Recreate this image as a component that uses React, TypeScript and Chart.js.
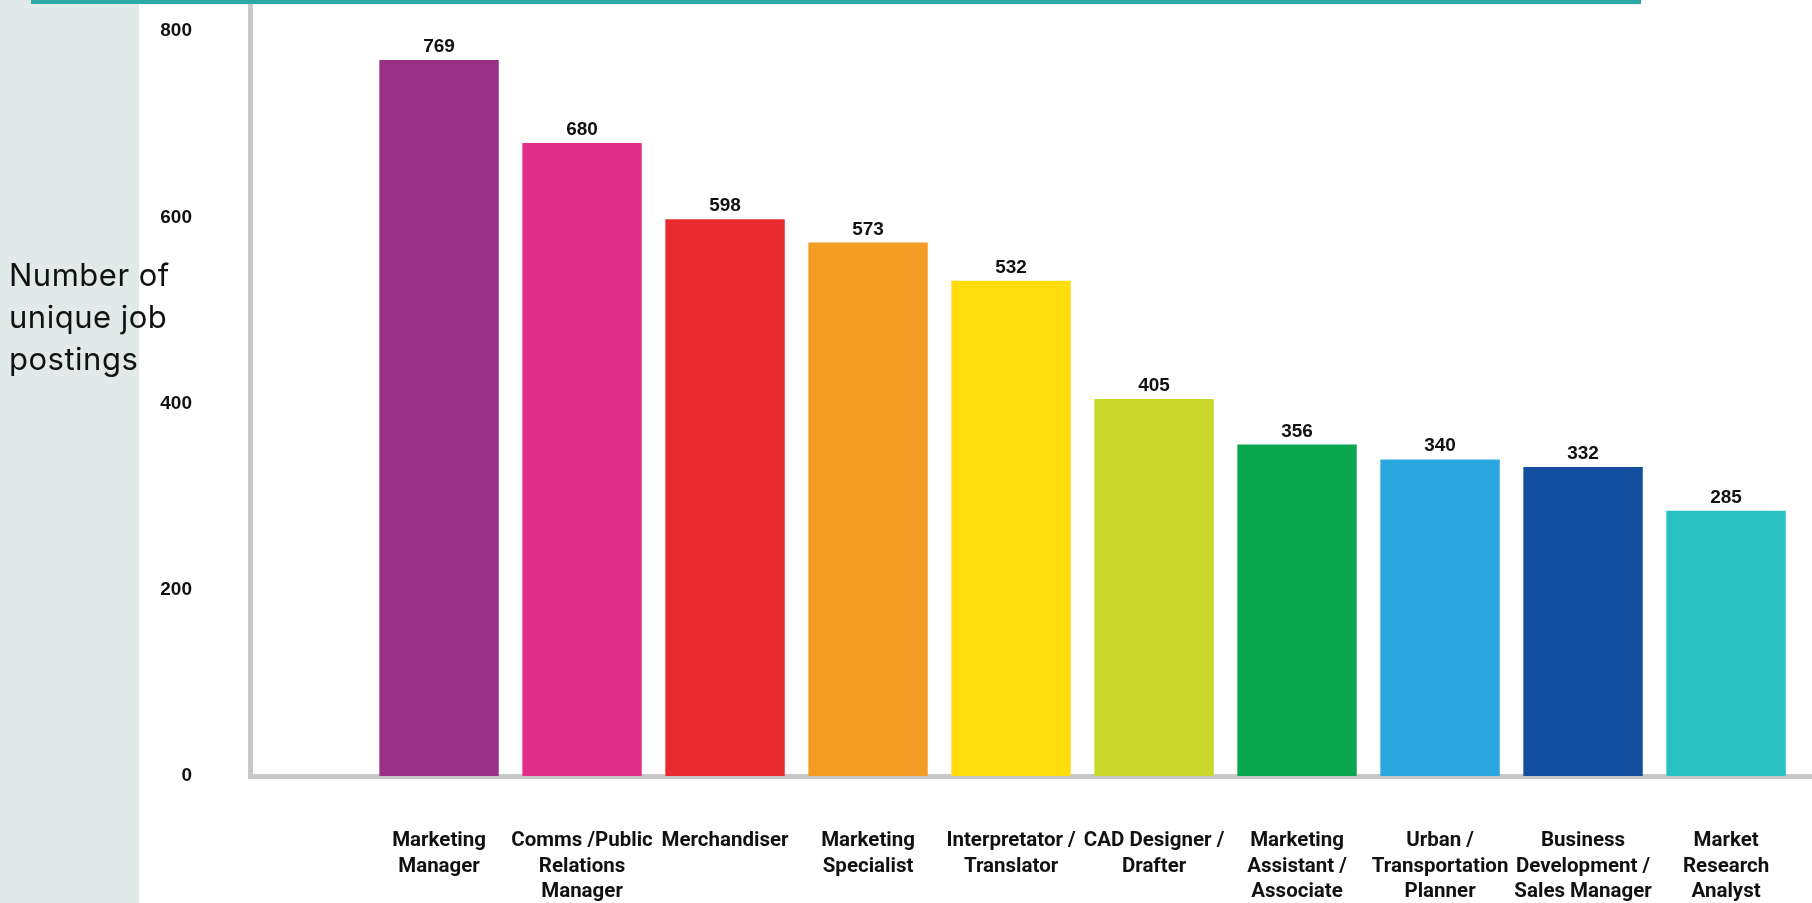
import React, { useEffect, useRef } from "react";
import { Chart, registerables } from "chart.js";

Chart.register(...registerables);

const categoryLabels: string[][] = [
  ["Marketing", "Manager"],
  ["Comms /Public", "Relations", "Manager"],
  ["Merchandiser"],
  ["Marketing", "Specialist"],
  ["Interpretator /", "Translator"],
  ["CAD Designer /", "Drafter"],
  ["Marketing", "Assistant /", "Associate"],
  ["Urban /", "Transportation", "Planner"],
  ["Business", "Development /", "Sales Manager"],
  ["Market", "Research", "Analyst"],
];

const postings: number[] = [769, 680, 598, 573, 532, 405, 356, 340, 332, 285];

const barColors: string[] = [
  "#993185",
  "#e02d8a",
  "#e8292f",
  "#f59c25",
  "#ffdd0c",
  "#cad82b",
  "#0aa650",
  "#2ba7e0",
  "#134f9e",
  "#28c0c1",
];

const yTickValues: number[] = [0, 200, 400, 600, 800];

const titleLines: string[] = ["Number of", "unique job", "postings"];

const valueLabelPlugin = {
  id: "valueLabels",
  afterDatasetsDraw(chart: any) {
    const ctx = chart.ctx;
    const meta = chart.getDatasetMeta(0);
    ctx.save();
    ctx.font = "bold 19px 'Liberation Sans', Arial, sans-serif";
    ctx.fillStyle = "#111111";
    ctx.textAlign = "center";
    ctx.textBaseline = "alphabetic";
    meta.data.forEach((bar: any, i: number) => {
      ctx.fillText(String(postings[i]), bar.x, bar.y - 8);
    });
    ctx.restore();
  },
};

export default function App() {
  const canvasRef = useRef<HTMLCanvasElement | null>(null);

  useEffect(() => {
    if (!canvasRef.current) return;
    const chart = new Chart(canvasRef.current, {
      type: "bar",
      data: {
        datasets: [
          {
            data: postings.map((v, i) => ({ x: i, y: v })),
            backgroundColor: barColors,
            borderWidth: 0,
            barPercentage: 0.835,
            categoryPercentage: 1,
          },
        ],
      },
      options: {
        animation: false,
        responsive: true,
        maintainAspectRatio: false,
        layout: { padding: 0 },
        plugins: {
          legend: { display: false },
          tooltip: { enabled: false },
        },
        scales: {
          x: {
            type: "linear",
            offset: false,
            min: -1.322,
            max: 9.601,
            grid: { display: false, drawTicks: false },
            border: { display: true, color: "#c8c8c8", width: 5 },
            afterBuildTicks: (scale: any) => {
              scale.ticks = categoryLabels.map((_, i) => ({ value: i }));
            },
            afterFit: (scale: any) => {
              scale.height = 127;
              scale.paddingLeft = 0;
              scale.paddingRight = 0;
            },
            ticks: {
              autoSkip: false,
              maxRotation: 0,
              minRotation: 0,
              padding: 52,
              color: "#111111",
              font: { family: "Roboto, 'Noto Sans', sans-serif", size: 20.5, weight: "bold", lineHeight: 1.25 },
              callback: (value: any) => categoryLabels[Math.round(Number(value))] ?? "",
            },
          },
          y: {
            type: "linear",
            min: 0,
            max: 833.5,
            grid: { display: false, drawTicks: false },
            border: { display: true, color: "#c8c8c8", width: 5 },
            afterBuildTicks: (scale: any) => {
              scale.ticks = yTickValues.map((v) => ({ value: v }));
            },
            afterFit: (scale: any) => {
              scale.width = 250;
              scale.paddingTop = 0;
              scale.paddingBottom = 0;
            },
            ticks: {
              padding: 58,
              color: "#111111",
              font: { family: "'Liberation Sans', Arial, sans-serif", size: 19, weight: "bold" },
            },
          },
        },
      } as any,
      plugins: [valueLabelPlugin],
    });
    return () => chart.destroy();
  }, []);

  return (
    <div
      style={{
        position: "fixed",
        left: 0,
        top: 0,
        width: 1812,
        height: 903,
        background: "#ffffff",
        overflow: "hidden",
      }}
    >
      <div
        style={{
          position: "absolute",
          left: 0,
          top: 0,
          width: 139,
          height: 903,
          background: "#e1eae9",
        }}
      />
      <div style={{ position: "absolute", left: 0, top: 0, width: 1812, height: 903 }}>
        <canvas ref={canvasRef} />
      </div>
      <div
        style={{
          position: "absolute",
          left: 31,
          top: 0,
          width: 1610,
          height: 4,
          background: "#2aa9a8",
        }}
      />
      <div
        style={{
          position: "absolute",
          left: 9,
          top: 254,
          fontFamily: "Inter, 'Liberation Sans', sans-serif",
          fontSize: 31,
          lineHeight: "42px",
          letterSpacing: "0.5px",
          color: "#111111",
          whiteSpace: "nowrap",
        }}
      >
        {titleLines.map((t, i) => (
          <div key={i}>{t}</div>
        ))}
      </div>
    </div>
  );
}
